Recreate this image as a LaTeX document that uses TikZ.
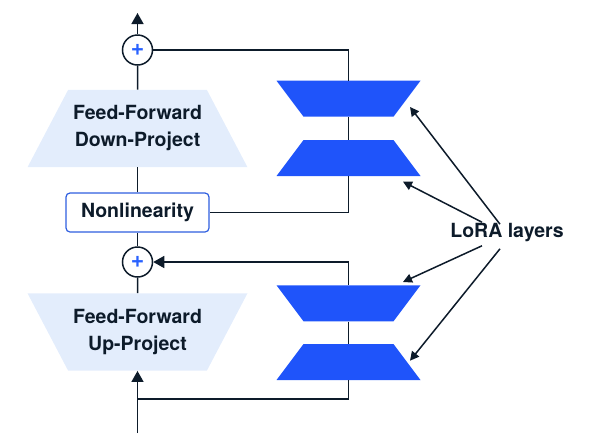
\documentclass[tikz,border=0pt]{standalone}
\usepackage{fontspec}
\setmainfont{TeX Gyre Heros}
\usetikzlibrary{shapes.geometric,arrows.meta,positioning}
\definecolor{ink}{HTML}{0D1B2A}
\definecolor{fflight}{HTML}{E3EDFC}
\definecolor{lorablue}{HTML}{1F54FA}
\definecolor{plusblue}{HTML}{2962FF}
\definecolor{boxblue}{HTML}{2F5FE0}
\newcommand\ffont{\bfseries\fontsize{19.5}{27}\selectfont}
\tikzset{
  ffblock/.style={trapezium, trapezium stretches body, trapezium angle=62.3,
    minimum width=220pt, fill=fflight, inner xsep=0pt, inner ysep=16pt,
    text=ink, align=center, font=\ffont},
  lorablock/.style={trapezium, trapezium stretches body, trapezium angle=53.1,
    minimum width=144pt, fill=lorablue, inner xsep=0pt, inner ysep=18pt},
  addnode/.style={circle, draw=ink, line width=1.5pt, fill=white, minimum size=30pt,
    inner sep=0pt, text=plusblue, font=\bfseries\fontsize{23}{23}\selectfont},
  wire/.style={draw=ink, line width=1.5pt},
  flow/.style={wire, -{Triangle[width=12pt,length=11pt]}},
  pointer/.style={wire, -{Triangle[width=9pt,length=9pt]}}
}
\begin{document}
\begin{tikzpicture}[x=1pt,y=-1pt]
\useasboundingbox (0,0) rectangle (607,440);
% main path
\node[addnode] (addtop) at (137.5,50) {+};
\node[ffblock] (down) at (137.5,128.5) {Feed-Forward\\Down-Project};
\node[draw=boxblue, line width=1.2pt, rounded corners=4pt, fill=white, text=ink,
  minimum width=143pt, minimum height=39pt, font=\ffont] (nonlin) at (137.5,212.5) {Nonlinearity};
\node[addnode] (addbot) at (137.5,262) {+};
\node[ffblock, shape border rotate=180] (up) at (137.5,332) {Feed-Forward\\Up-Project};
\coordinate (out) at (137.5,13);
\coordinate (in) at (137.5,433);
\coordinate (tap) at (137.5,399);
% LoRA branches
\node[lorablock, shape border rotate=180] (lora1) at (348.5,98.7) {};
\node[lorablock] (lora2) at (348.5,158) {};
\node[lorablock, shape border rotate=180] (lora3) at (348.5,303.3) {};
\node[lorablock] (lora4) at (348.5,362) {};
\node[text=ink, font=\ffont] (loratext) at (507,233) {LoRA layers};
% connections
\draw[flow] (addtop) -- (out);
\draw[wire] (down) -- (addtop);
\draw[wire] (nonlin) -- (down);
\draw[wire] (addbot) -- (nonlin);
\draw[wire] (up) -- (addbot);
\draw[flow] (in) -- (up);
\draw[wire] (addtop) -| (lora1);
\draw[wire] (lora1) -- (lora2);
\draw[wire] (lora2) |- (nonlin);
\draw[flow] (lora3) |- (addbot);
\draw[wire] (lora3) -- (lora4);
\draw[wire] (lora4) |- (tap);
% labels to layers
\coordinate (tip1) at ([xshift=61.5pt,yshift=-8.3pt]lora1.center);
\coordinate (tip2) at ([xshift=54.5pt,yshift=-23.7pt]lora2.center);
\coordinate (tip3) at ([xshift=54.5pt,yshift=21.3pt]lora3.center);
\coordinate (tip4) at ([xshift=61.5pt,yshift=1.3pt]lora4.center);
\draw[pointer] ([xshift=-7pt,yshift=-4pt]loratext.north) -- (tip1);
\draw[pointer] ([xshift=-25pt,yshift=-2pt]loratext.north) -- (tip2);
\draw[pointer] ([xshift=-25pt,yshift=0pt]loratext.south) -- (tip3);
\draw[pointer] ([xshift=-7pt,yshift=-3pt]loratext.south) -- (tip4);
\end{tikzpicture}
\end{document}
